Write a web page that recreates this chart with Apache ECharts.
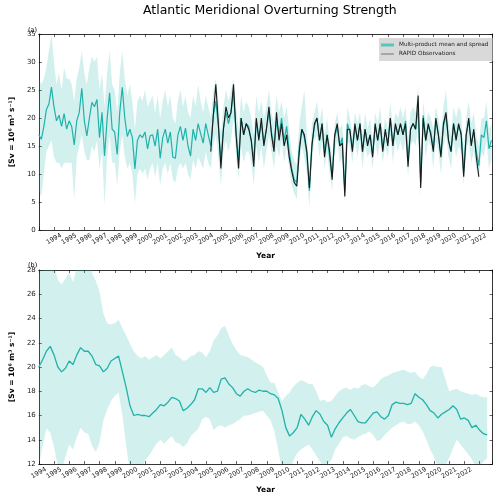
<!DOCTYPE html>
<html><head><meta charset="utf-8">
<script src="https://cdn.jsdelivr.net/npm/echarts@6/dist/echarts.min.js"></script>
<style>html,body{margin:0;padding:0;background:#fff}#c{width:500px;height:495px}</style>
</head><body><div id="c"></div>
<script>
// ---------- Panel (a): products sampled every 2 months, 1993.0 onward ----------
const aStart = 1993, aPerYear = 6;
const aMean = [
17.0,16.2,18.5,21.5,22.5,25.5,
22.0,19.5,20.5,18.5,20.8,18.0,
19.5,18.5,15.2,19.5,21.0,25.3,
19.5,16.8,20.0,22.8,22.0,23.3,
16.5,21.0,13.2,19.8,24.5,18.0,
17.5,13.5,21.0,25.5,20.0,16.7,
18.0,16.5,10.9,16.0,17.0,16.5,
17.5,14.5,16.8,17.0,15.0,18.0,
12.8,16.5,18.0,15.5,17.5,13.0,
12.8,17.0,18.5,16.0,18.2,15.0,
13.2,18.0,16.0,19.0,17.2,15.5,
19.0,17.0,15.0,20.5,23.0,18.5,
12.5,18.0,21.0,19.0,21.0,24.5,
17.5,12.5,20.0,17.0,19.0,18.5,
16.0,12.5,19.5,16.5,19.0,15.5,
18.0,21.0,17.5,15.0,19.5,17.0,
20.0,16.0,18.5,14.0,11.0,9.0,
8.5,15.0,18.0,16.5,13.5,7.0,
15.5,18.5,20.0,16.0,19.0,14.0,
17.0,13.0,9.5,16.5,18.5,15.0,
16.5,7.0,19.0,17.5,14.5,18.5,
16.0,19.0,14.0,18.0,15.5,17.0,
13.5,18.5,16.0,19.0,14.5,17.5,
15.5,20.0,15.0,18.5,17.0,19.0,
17.0,19.5,12.5,18.0,19.0,18.0,
22.0,8.5,20.5,16.0,18.5,17.5,
14.5,19.5,17.0,13.5,18.5,20.5,
16.0,14.0,19.0,16.5,18.5,17.5,
10.5,17.0,19.5,15.5,17.5,14.0,
11.5,17.0,16.5,19.5,14.5,16.0];
const aUpper = [
27,26,27,29,32,35,
30,26,28,25,29,27,
27,26,23,27,29,32,
28,26,29,31,30,31,
25,28,22,28,32,26,
25,21,28,32,27,24,
26,23,18,23,24,23,
25,22,23,24,21,24,
20,23,25,22,24,20,
19,23,25,22,24,21,
20,24,22,26,23,21,
24,22,20,25,27,23,
17,22,25,23,25,27,
22,18,24,21,23,22,
20,17,24,21,23,20,
22,25,21,19,24,21,
23,20,22,18,14,12.5,
11.5,19,22,25,17,10,
19,21,23,19,22,17,
20,16,13,19,21,18,
19,10,22,20,17,21,
19,21,17,21,18,20,
16,21,19,22,17,20,
18,23,18,21,20,22,
20,22,16,21,22,21,
26,12,23,19,21,20,
18,22,20,17,22,25,
19,17,22,20,22,21,
14,20,23,19,21,17,
15,20,20,23,18,19];
const aLower = [
7,6,10,14,15,16,
13,12,12,11,12,12,
12,12,5.5,13,15,17,
14,12.5,12.5,15,14,16,
11,14,4.5,13,17,12,
12,8,14,17,13,11,
12,10,4.7,10,11,10,
11,9,11,12,9.5,12,
8,11,12,10,12,9,
8.5,11,12,11,12,10,
9,12.5,11,13,12,11,
14,12,11,15,17,13,
8,14,16,14,16,20,
13,9,15,12,14,14,
12,8,15,12,15,11,
14,17,14,11,15,13,
16,12,15,11,8,6.5,
5.5,12,15,13,10,4,
12,16,17,13,16,11,
14,10,7,14,16,12,
13,5,16,15,12,16,
13,16,11,15,13,14,
11,16,13,16,12,15,
13,17,12,16,14,16,
14,16,9.5,15,16,15,
19,6,18,13,16,15,
11,16,14,10,15,17,
13,11,16,13,15,14,
8,14,16,12,14,11,
9,14,13,16,11,12.5];
// RAPID observations, every 2 months from 2004 + 2/6
const rapidStartYear = 2004, rapidStartStep = 2;
const rapid = [
14,20.5,26,19,
11,18,22,20,21,26,
17,11,20,17,19,18,
16,11.3,20,16,20,15,
18,22,17,14,21,16,
19,15,17,13,10.5,8.5,
7.8,14,18,17,14,7.5,
15,19,20,16,19,13,
17,14,9,17,19,15,
15.5,6,18,18,14,19,
16,19,14,18,15,17,
13,19,16,19,14,18,
15,20,15,19,17,19,
17,19,11.3,18,19,18,
24,7.5,20,16,19,17,
14,20,17,13,19,21,
16,14,19,16,19,17,
9.5,17,20,15,18,13,
9.5];

// ---------- Panel (b): smoothed, quarterly from 1994.0 ----------
const bStart = 1994, bPerYear = 4;
const bMean = [
20.0,20.6,21.3,21.7,21.0,20.0,19.6,19.9,20.5,20.2,
21.0,21.6,21.3,21.3,20.9,20.2,20.1,19.6,19.9,20.5,
20.7,20.9,19.6,18.3,16.8,16.0,16.1,16.0,16.0,15.9,
16.2,16.5,16.9,16.8,17.1,17.5,17.4,17.2,16.4,16.6,
16.9,17.3,18.2,18.2,17.9,18.3,17.9,18.0,19.0,19.1,
18.6,18.3,17.8,17.6,18.0,18.2,18.0,17.9,18.1,18.0,
18.0,17.8,17.7,17.4,16.4,15.0,14.3,14.6,15.0,16.1,
15.7,15.2,15.9,16.4,16.1,15.5,15.2,14.2,14.9,15.4,
15.8,16.2,16.5,16.0,15.5,15.4,15.4,15.8,16.2,16.3,
15.9,15.7,16.0,16.9,17.1,17.0,17.0,16.9,17.0,17.8,
17.5,17.3,16.9,16.4,16.2,15.8,16.1,16.3,16.5,16.8,
16.5,15.7,15.8,15.6,15.0,15.2,14.8,14.5,14.4];
const bUpper = [
29.5,30,30,29.5,28.4,27.2,26.8,27.3,27.8,27.0,
28.2,29,29,28.5,27.8,27.1,26.2,24.4,23.6,23.5,
23.6,23.9,23.2,22.6,21.9,21.3,20.9,20.7,20.9,20.6,
20.8,21.0,20.7,21.0,21.3,21.6,21.0,20.8,20.5,20.6,
20.9,21.0,21.3,21.2,20.8,21.3,22.2,22.6,23.2,23.4,
22.6,21.9,21.4,21.0,20.9,20.8,20.6,20.4,20.2,20.0,
19.3,18.7,18.7,17.9,17.2,17.6,17.9,18.4,18.7,18.9,
18.8,18.6,18.6,18.0,17.2,17.3,17.1,17.2,17.6,18.0,
18.2,18.3,18.1,18.3,18.2,18.5,18.6,18.4,18.3,18.6,
19.0,19.2,19.3,19.5,19.6,19.7,19.8,19.6,19.5,19.6,
19.2,19.0,19.4,20.0,20.1,20.0,20.0,19.0,18.0,18.1,
18.2,18.0,17.9,17.8,17.7,17.8,17.6,17.5,17.5];
const bLower = [
11.8,13.5,14.9,14.6,13.4,11.8,11.5,12.6,13.6,13.2,
14.2,15.0,14.6,14.5,13.5,13.0,13.8,15.6,16.5,17.2,
17.6,17.9,16.0,13.5,11.2,10.5,10.8,11.7,12.3,12.7,
13.2,13.7,14.0,13.7,14.0,14.3,13.8,13.7,13.4,13.7,
14.3,14.6,14.9,15.7,15.9,15.7,14.8,15.1,15.2,15.0,
15.2,15.3,15.5,15.7,16.0,16.0,16.1,16.2,16.3,16.4,
16.0,15.6,14.7,13.2,11.5,11.0,11.3,12.3,12.9,13.2,
13.4,13.6,13.2,12.7,12.2,11.8,12.0,12.3,13.2,13.7,
14.2,14.3,14.1,14.0,14.2,14.4,14.5,14.7,14.4,13.9,
14.0,14.4,14.7,15.0,15.2,15.4,15.5,15.3,15.3,15.5,
15.2,14.7,14.0,13.2,12.6,11.8,11.5,11.9,12.5,13.3,
14.0,13.6,13.2,12.8,12.4,11.8,11.7,12.2,12.5];

const yearLabelsFrom = 1994, yearLabelsTo = 2022;
const titleText = 'Atlantic Meridional Overturning Strength';
const yName = '[Sv = 10\u2076 m\u00b3 s\u207b\u00b9]';
const legendMean = 'Multi-product mean and spread';
const legendRapid = 'RAPID Observations';

// ---------- build ----------
function toPairs(startYear, perYear, arr, offsetSteps) {
  const off = offsetSteps || 0;
  return arr.map((v, i) => [startYear + (i + off) / perYear, v]);
}
function toBand(startYear, perYear, up, lo) {
  return up.map((v, i) => [startYear + i / perYear, v, lo[i]]);
}

const FONT = 'DejaVu Sans';
const TEAL = '#20b2aa';
const FILL = 'rgba(32,178,170,0.2)';
const INK = '#1a1a1a';

// band polygon (upper forward, lower backward) mapped through the axes
function bandRender(bandData) {
  return function (params, api) {
    if (params.dataIndex !== 0) return null;
    const pts = [];
    for (let i = 0; i < bandData.length; i++) pts.push(api.coord([bandData[i][0], bandData[i][1]]));
    for (let i = bandData.length - 1; i >= 0; i--) pts.push(api.coord([bandData[i][0], bandData[i][2]]));
    const cs = params.coordSys;
    return {
      type: 'polygon', shape: {points: pts}, style: {fill: FILL, stroke: null},
      clipPath: {type: 'rect', shape: {x: cs.x, y: cs.y, width: cs.width, height: cs.height}}
    };
  };
}

function xLabelFmt(v) {
  return (Math.abs(v - Math.round(v)) < 1e-6 && v >= yearLabelsFrom && v <= yearLabelsTo) ? String(Math.round(v)) : '';
}
function bottomX(grid, min, max) {
  return {
    type: 'value', gridIndex: grid, min: min, max: max, interval: 1, position: 'bottom',
    axisLine: {show: true, onZero: false, lineStyle: {color: '#000', width: 0.8}},
    axisTick: {show: true, inside: true, length: 3, lineStyle: {color: '#000', width: 0.6}},
    splitLine: {show: false},
    axisLabel: {show: true, rotate: 30, fontSize: 6.5, fontFamily: FONT, color: '#222', margin: 9,
      align: 'center', verticalAlign: 'middle', formatter: xLabelFmt, showMinLabel: true, showMaxLabel: true},
    name: 'Year', nameLocation: 'middle', nameGap: 22,
    nameTextStyle: {fontFamily: FONT, fontWeight: 'bold', fontSize: 7.5, color: '#000'}
  };
}
function topX(grid, min, max) {
  return {
    type: 'value', gridIndex: grid, min: min, max: max, interval: 1, position: 'top',
    axisLine: {show: true, onZero: false, lineStyle: {color: '#000', width: 0.8}},
    axisTick: {show: true, inside: true, length: 3, lineStyle: {color: '#000', width: 0.6}},
    splitLine: {show: false}, axisLabel: {show: false}
  };
}
function leftY(grid, min, max, iv) {
  return {
    type: 'value', gridIndex: grid, min: min, max: max, interval: iv, position: 'left',
    axisLine: {show: true, onZero: false, lineStyle: {color: '#000', width: 0.8}},
    axisTick: {show: true, inside: true, length: 3, lineStyle: {color: '#000', width: 0.6}},
    splitLine: {show: false},
    axisLabel: {show: true, fontSize: 7, fontFamily: FONT, color: '#222', margin: 3},
    name: yName, nameLocation: 'middle', nameRotate: 90, nameGap: 14,
    nameTextStyle: {fontFamily: FONT, fontWeight: 'bold', fontSize: 7.5, color: '#000'}
  };
}
function rightY(grid, min, max, iv) {
  return {
    type: 'value', gridIndex: grid, min: min, max: max, interval: iv, position: 'right',
    axisLine: {show: true, onZero: false, lineStyle: {color: '#000', width: 0.8}},
    axisTick: {show: true, inside: true, length: 3, lineStyle: {color: '#000', width: 0.6}},
    splitLine: {show: false}, axisLabel: {show: false}
  };
}

const aX0 = 1993, aX1 = 2022.9, bX0 = 1994, bX1 = 2023.85;
const aBand = toBand(aStart, aPerYear, aUpper, aLower);
const bBand = toBand(bStart, bPerYear, bUpper, bLower);

const option = {
  animation: false,
  backgroundColor: '#fff',
  title: {text: titleText, left: 143, top: 4, padding: 0,
    textStyle: {fontFamily: FONT, fontWeight: 'normal', fontSize: 12.5, color: '#000'}},
  graphic: [
    {type: 'text', left: 28, top: 27, style: {text: '(a)', fontFamily: FONT, fontSize: 6.5, fill: '#000'}},
    {type: 'text', left: 28, top: 262, style: {text: '(b)', fontFamily: FONT, fontSize: 6.5, fill: '#000'}}
  ],
  legend: {
    orient: 'vertical', left: 379, top: 38, padding: [4, 4, 4, 2], itemGap: 3,
    itemWidth: 13, itemHeight: 3, backgroundColor: '#d9d9d9', borderRadius: 0,
    textStyle: {fontFamily: FONT, fontSize: 5.7, color: '#222'},
    data: [
      {name: legendMean, icon: 'rect', itemStyle: {color: '#56c5bd'}},
      {name: legendRapid, icon: 'path://M0,1.1h20v0.8h-20z M0,0 M20,3', itemStyle: {color: INK}}
    ]
  },
  grid: [
    {left: 27, right: 7.5, top: 34, bottom: 265},
    {left: 28, right: 7.5, top: 270, bottom: 30}
  ],
  xAxis: [bottomX(0, aX0, aX1), topX(0, aX0, aX1), bottomX(1, bX0, bX1), topX(1, bX0, bX1)],
  yAxis: [leftY(0, 0, 35, 5), rightY(0, 0, 35, 5), leftY(1, 12, 28, 2), rightY(1, 12, 28, 2)],
  series: [
    {type: 'custom', xAxisIndex: 0, yAxisIndex: 0, silent: true, data: aBand,
      encode: {x: 0, y: [1, 2]}, renderItem: bandRender(aBand)},
    {name: legendMean, type: 'line', xAxisIndex: 0, yAxisIndex: 0, symbol: 'none',
      data: toPairs(aStart, aPerYear, aMean), itemStyle: {color: TEAL}, lineStyle: {color: TEAL, width: 1.2}},
    {name: legendRapid, type: 'line', xAxisIndex: 0, yAxisIndex: 0, symbol: 'none',
      data: toPairs(rapidStartYear, aPerYear, rapid, rapidStartStep), itemStyle: {color: INK}, lineStyle: {color: INK, width: 1.1}},
    {type: 'custom', xAxisIndex: 2, yAxisIndex: 2, silent: true, data: bBand,
      encode: {x: 0, y: [1, 2]}, renderItem: bandRender(bBand)},
    {type: 'line', xAxisIndex: 2, yAxisIndex: 2, symbol: 'none',
      data: toPairs(bStart, bPerYear, bMean), itemStyle: {color: TEAL}, lineStyle: {color: TEAL, width: 1.3}}
  ]
};
const chart = echarts.init(document.getElementById('c'), null, {renderer: 'canvas'});
chart.setOption(option);
</script></body></html>
